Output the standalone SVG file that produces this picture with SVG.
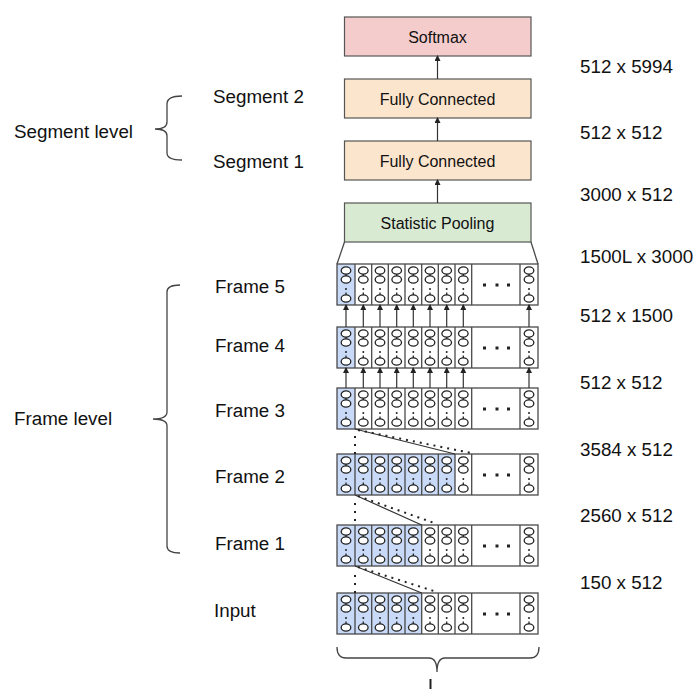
<svg xmlns="http://www.w3.org/2000/svg" xmlns:xlink="http://www.w3.org/1999/xlink" width="696" height="689" viewBox="0 0 696 689">
<style>
text{font-family:"Liberation Sans",Arial,sans-serif;fill:#111}
.lbl{font-size:18.8px}
.box{font-size:16px;text-anchor:middle}
.rowbg{fill:#fff;stroke:none}
.rowo{fill:none;stroke:#4a4a4a;stroke-width:1.3}
.blue{fill:#c9daf8}
.div{stroke:#4a4a4a;stroke-width:1.3;fill:none}
.n ellipse{fill:#fff;stroke:#222;stroke-width:1.3}
.n line{stroke:#222;stroke-width:1.3}
.n circle{fill:#222}
.ar{stroke:#333;stroke-width:1.2;fill:none;marker-end:url(#ah)}
.br{fill:none;stroke:#444;stroke-width:1.3}
.sol{stroke:#333;stroke-width:1.2}
.dot{stroke:#222;stroke-width:2;stroke-dasharray:2 5}
.dotv{stroke:#222;stroke-width:2;stroke-dasharray:2 6}
.ed{fill:#222}
</style>
<defs>
<marker id="ah" markerWidth="6" markerHeight="6" refX="5" refY="3" orient="auto" markerUnits="userSpaceOnUse">
<path d="M0,0 L6,3 L0,6 Z" fill="#222"/>
</marker>
<g id="neur" class="n">
<ellipse cx="0" cy="6.5" rx="4.8" ry="3.6"/>
<line x1="0" y1="10" x2="0" y2="12"/>
<ellipse cx="0" cy="15.5" rx="4.8" ry="3.6"/>
<circle cx="0" cy="25" r="1"/>
<line x1="0" y1="28.5" x2="0" y2="31"/>
<ellipse cx="0" cy="34.5" rx="4.8" ry="3.6"/>
</g>
<g id="cols">
<use href="#neur" x="346"/><use href="#neur" x="363.3"/><use href="#neur" x="380"/><use href="#neur" x="396.7"/><use href="#neur" x="413.3"/><use href="#neur" x="430"/><use href="#neur" x="446.7"/><use href="#neur" x="463.3"/><use href="#neur" x="529"/>
<rect class="ed" x="483" y="19.5" width="3" height="3"/><rect class="ed" x="495.5" y="19.5" width="3" height="3"/><rect class="ed" x="507" y="19.5" width="3" height="3"/>
</g>
<path id="dividers" class="div" d="M355,0v41M371.7,0v41M388.3,0v41M405,0v41M421.7,0v41M438.3,0v41M455,0v41M471.7,0v41M520,0v41"/>
</defs>

<g id="softmax"><rect x="344.5" y="17" width="186.5" height="39" fill="#f4cccc" stroke="#555" stroke-width="1.2"/><text class="box" x="437.5" y="42.5">Softmax</text></g>
<g id="fc2"><rect x="344.5" y="79" width="186.5" height="39" fill="#fce5cd" stroke="#555" stroke-width="1.2"/><text class="box" x="437.5" y="104.5">Fully Connected</text></g>
<g id="fc1"><rect x="344.5" y="141" width="186.5" height="39" fill="#fce5cd" stroke="#555" stroke-width="1.2"/><text class="box" x="437.5" y="166.5">Fully Connected</text></g>
<g id="pool"><rect x="344.5" y="203" width="186.5" height="39" fill="#d9ead3" stroke="#555" stroke-width="1.2"/><text class="box" x="437.5" y="228.5">Statistic Pooling</text></g>

<g id="frame5" transform="translate(0,264)">
<rect class="rowbg" x="337" y="0" width="201" height="41"/><rect class="blue" x="337" y="0" width="18" height="41"/>
<use href="#dividers"/><rect class="rowo" x="337" y="0" width="201" height="41"/><use href="#cols"/>
</g>
<g id="frame4" transform="translate(0,327)">
<rect class="rowbg" x="337" y="0" width="201" height="41"/><rect class="blue" x="337" y="0" width="18" height="41"/>
<use href="#dividers"/><rect class="rowo" x="337" y="0" width="201" height="41"/><use href="#cols"/>
</g>
<g id="frame3" transform="translate(0,388)">
<rect class="rowbg" x="337" y="0" width="201" height="41"/><rect class="blue" x="337" y="0" width="18" height="41"/>
<use href="#dividers"/><rect class="rowo" x="337" y="0" width="201" height="41"/><use href="#cols"/>
</g>
<g id="frame2" transform="translate(0,454)">
<rect class="rowbg" x="337" y="0" width="201" height="41"/><rect class="blue" x="337" y="0" width="118" height="41"/>
<use href="#dividers"/><rect class="rowo" x="337" y="0" width="201" height="41"/><use href="#cols"/>
</g>
<g id="frame1" transform="translate(0,525)">
<rect class="rowbg" x="337" y="0" width="201" height="41"/><rect class="blue" x="337" y="0" width="84.7" height="41"/>
<use href="#dividers"/><rect class="rowo" x="337" y="0" width="201" height="41"/><use href="#cols"/>
</g>
<g id="input" transform="translate(0,593)">
<rect class="rowbg" x="337" y="0" width="201" height="41"/><rect class="blue" x="337" y="0" width="84.7" height="41"/>
<use href="#dividers"/><rect class="rowo" x="337" y="0" width="201" height="41"/><use href="#cols"/>
</g>

<g id="connectors">
<line class="ar" x1="437.5" y1="203" x2="437.5" y2="180"/>
<line class="ar" x1="437.5" y1="141" x2="437.5" y2="118"/>
<line class="ar" x1="437.5" y1="79" x2="437.5" y2="56"/>
<line class="div" x1="344.5" y1="242" x2="337" y2="264"/>
<line class="div" x1="531" y1="242" x2="538" y2="264"/>
<g id="arrows45">
<line class="ar" x1="346" y1="327" x2="346" y2="305"/><line class="ar" x1="363.3" y1="327" x2="363.3" y2="305"/><line class="ar" x1="380" y1="327" x2="380" y2="305"/><line class="ar" x1="396.7" y1="327" x2="396.7" y2="305"/><line class="ar" x1="413.3" y1="327" x2="413.3" y2="305"/><line class="ar" x1="430" y1="327" x2="430" y2="305"/><line class="ar" x1="446.7" y1="327" x2="446.7" y2="305"/><line class="ar" x1="463.3" y1="327" x2="463.3" y2="305"/><line class="ar" x1="529" y1="327" x2="529" y2="305"/>
</g>
<g id="arrows34">
<line class="ar" x1="346" y1="388" x2="346" y2="368"/><line class="ar" x1="363.3" y1="388" x2="363.3" y2="368"/><line class="ar" x1="380" y1="388" x2="380" y2="368"/><line class="ar" x1="396.7" y1="388" x2="396.7" y2="368"/><line class="ar" x1="413.3" y1="388" x2="413.3" y2="368"/><line class="ar" x1="430" y1="388" x2="430" y2="368"/><line class="ar" x1="446.7" y1="388" x2="446.7" y2="368"/><line class="ar" x1="463.3" y1="388" x2="463.3" y2="368"/><line class="ar" x1="529" y1="388" x2="529" y2="368"/>
</g>
<line class="sol" x1="355" y1="429" x2="455" y2="454"/>
<line class="dot" x1="358" y1="430" x2="471" y2="453"/>
<line class="dotv" x1="355" y1="436" x2="355" y2="454"/>
<line class="sol" x1="355" y1="495" x2="421.7" y2="525"/>
<line class="dot" x1="358" y1="496" x2="437" y2="524"/>
<line class="dotv" x1="355" y1="503" x2="355" y2="525"/>
<line class="sol" x1="355" y1="566" x2="421.7" y2="593"/>
<line class="dot" x1="358" y1="567" x2="437" y2="592"/>
<line class="dotv" x1="355" y1="575" x2="355" y2="593"/>
</g>

<g id="braces">
<path class="br" d="M182,96 Q167,96 167,104 L167,122 Q167,129 155,129 Q167,129 167,136 L167,153 Q167,160 182,160"/>
<path class="br" d="M180,285 Q167,285 167,292 L167,412 Q167,419 153,419 Q167,419 167,426 L167,546 Q167,553 180,553"/>
<path class="br" d="M337,647 Q337,658 346,658 L429,658 Q437,658 437,672 Q437,658 445,658 L530,658 Q539,658 539,647"/>
<line x1="430.5" y1="679" x2="430.5" y2="689" stroke="#222" stroke-width="2"/>
</g>

<g id="labels">
<text class="lbl" x="14" y="138">Segment level</text>
<text class="lbl" x="213" y="103">Segment 2</text>
<text class="lbl" x="213" y="168">Segment 1</text>
<text class="lbl" x="14" y="425">Frame level</text>
<text class="lbl" x="215" y="293">Frame 5</text>
<text class="lbl" x="215" y="352">Frame 4</text>
<text class="lbl" x="215" y="417">Frame 3</text>
<text class="lbl" x="215" y="483">Frame 2</text>
<text class="lbl" x="215" y="550">Frame 1</text>
<text class="lbl" x="214" y="617">Input</text>
<text class="lbl" x="580" y="73">512 x 5994</text>
<text class="lbl" x="580" y="139">512 x 512</text>
<text class="lbl" x="580" y="201">3000 x 512</text>
<text class="lbl" x="580" y="263">1500L x 3000</text>
<text class="lbl" x="580" y="322">512 x 1500</text>
<text class="lbl" x="580" y="389">512 x 512</text>
<text class="lbl" x="580" y="456">3584 x 512</text>
<text class="lbl" x="580" y="522">2560 x 512</text>
<text class="lbl" x="580" y="589">150 x 512</text>
</g>
</svg>
